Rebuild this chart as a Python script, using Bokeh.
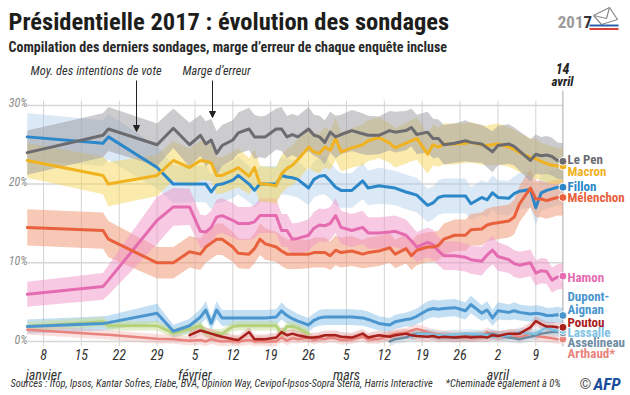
import pandas as pd
from bokeh.plotting import figure
from bokeh.models import ColumnDataSource, Label, Arrow, NormalHead
from bokeh.core.properties import value
from bokeh.embed import file_html
from bokeh.resources import INLINE

# ---------------- data ----------------
DATES = ["2017-01-05", "2017-01-19", "2017-01-20", "2017-01-29", "2017-02-01",
         "2017-02-04", "2017-02-06", "2017-02-07", "2017-02-08", "2017-02-09",
         "2017-02-10", "2017-02-12", "2017-02-13", "2017-02-15", "2017-02-16",
         "2017-02-17", "2017-02-18", "2017-02-20", "2017-02-21", "2017-02-22",
         "2017-02-23", "2017-02-24", "2017-02-26", "2017-02-27", "2017-02-28",
         "2017-03-01", "2017-03-02", "2017-03-03", "2017-03-04", "2017-03-06",
         "2017-03-08", "2017-03-09", "2017-03-11", "2017-03-13", "2017-03-14",
         "2017-03-16", "2017-03-17", "2017-03-18", "2017-03-20", "2017-03-21",
         "2017-03-22", "2017-03-23", "2017-03-25", "2017-03-27", "2017-03-28",
         "2017-03-30", "2017-03-31", "2017-04-01", "2017-04-02", "2017-04-04",
         "2017-04-05", "2017-04-06", "2017-04-08", "2017-04-09", "2017-04-10",
         "2017-04-11", "2017-04-12", "2017-04-13", "2017-04-14"]

LE_PEN = [24.0, 26.2, 27.0, 25.0, 27.1, 25.0, 26.2, 25.1, 25.6, 23.9,
          24.9, 25.6, 26.5, 27.0, 26.0, 26.0, 26.0, 27.0, 27.0, 26.0,
          26.3, 26.0, 27.0, 26.2, 26.0, 25.3, 26.6, 26.0, 26.3, 26.8,
          26.4, 26.2, 26.2, 26.8, 26.6, 26.8, 27.2, 26.3, 26.6, 25.8,
          25.8, 25.0, 25.2, 25.5, 25.3, 25.1, 24.6, 24.1, 24.9, 25.1,
          24.8, 24.2, 23.0, 23.8, 23.6, 23.7, 23.5, 23.0, 22.9]
MACRON = [23.0, 21.1, 20.0, 21.1, 23.0, 22.1, 23.0, 22.9, 22.7, 21.1,
          21.1, 21.7, 22.1, 21.0, 22.1, 20.0, 20.0, 19.8, 21.3, 22.0,
          22.4, 23.1, 24.7, 24.1, 23.9, 24.7, 24.3, 25.8, 24.1, 24.6,
          25.0, 25.5, 25.9, 25.2, 24.6, 25.2, 25.5, 25.8, 23.8, 25.0,
          24.7, 25.1, 25.1, 25.2, 25.3, 25.0, 24.9, 25.0, 25.1, 24.7,
          24.4, 24.0, 23.4, 23.2, 22.9, 22.6, 22.4, 22.3, 22.3]
FILLON = [26.0, 25.2, 26.0, 22.1, 20.0, 20.0, 20.0, 20.0, 19.0, 19.9,
          20.0, 20.5, 21.1, 20.0, 19.2, 20.0, 20.0, 20.0, 21.1, 20.9,
          20.8, 20.6, 19.5, 20.6, 21.0, 21.1, 20.4, 19.6, 19.2, 19.2,
          20.4, 19.5, 19.8, 19.6, 19.5, 19.0, 18.8, 18.6, 17.3, 17.6,
          18.3, 18.5, 18.5, 18.5, 17.5, 18.3, 18.0, 18.9, 18.3, 18.2,
          18.8, 19.1, 19.3, 17.0, 18.9, 19.2, 19.4, 19.6, 19.6]
MELENCHON = [14.5, 14.1, 13.0, 10.0, 10.0, 11.4, 11.1, 12.0, 12.5, 13.0,
             13.0, 12.0, 11.2, 11.1, 11.8, 13.0, 12.4, 12.0, 11.5, 11.1,
             11.1, 11.1, 11.1, 11.3, 11.3, 11.3, 10.9, 11.6, 11.3, 11.5,
             11.1, 11.3, 11.5, 11.9, 11.1, 11.8, 10.9, 11.6, 12.0, 12.0,
             12.2, 13.0, 13.5, 13.5, 14.2, 14.3, 14.8, 15.0, 15.1, 15.3,
             15.8, 17.5, 19.5, 18.1, 18.1, 17.9, 18.1, 18.3, 18.3]
HAMON = [6.0, 7.0, 7.8, 15.4, 17.1, 17.1, 14.0, 13.9, 14.5, 15.8,
         16.0, 15.4, 15.0, 15.0, 15.2, 16.0, 16.0, 16.0, 14.1, 14.1,
         13.0, 13.1, 13.5, 14.4, 14.8, 14.7, 15.0, 16.0, 14.5, 14.1,
         14.5, 13.8, 13.8, 13.9, 14.0, 13.5, 12.8, 12.0, 12.6, 12.3,
         11.5, 10.9, 10.9, 10.7, 10.4, 10.2, 11.0, 11.6, 10.8, 10.4,
         9.9, 9.7, 10.0, 8.7, 9.0, 8.9, 7.8, 8.2, 8.3]
DUPONT_AIGNAN = [1.9, 2.3, 2.4, 3.6, 1.3, 2.0, 3.1, 4.0, 2.3, 4.0,
                 3.0, 3.0, 3.0, 3.0, 3.0, 3.0, 3.0, 3.1, 3.9, 3.3,
                 2.9, 2.6, 2.1, 2.7, 3.0, 3.1, 3.1, 3.1, 3.1, 3.1,
                 3.0, 2.8, 2.3, 2.1, 2.5, 2.8, 2.9, 3.2, 4.0, 4.2,
                 4.1, 4.2, 4.3, 3.9, 4.7, 3.6, 4.0, 3.0, 3.9, 3.7,
                 3.9, 3.7, 3.5, 3.6, 3.5, 3.3, 3.3, 3.4, 3.3]
JADOT = [1.9, 2.5, 2.0, 2.0, 1.05, 1.6, 2.0, 1.1, 1.0, 1.0,
         1.0, 1.9, 2.0, 2.0, 2.0, 2.0, 2.0, 2.0, 1.0, 1.9,
         1.9, 1.7, 1.0, None, None, None, None, None, None, None,
         None, None, None, None, None, None, None, None, None, None,
         None, None, None, None, None, None, None, None, None, None,
         None, None, None, None, None, None, None, None, None]
POUTOU = [None, None, None, None, None, 0.8, 1.4, 1.2, 1.0, 0.8,
          0.6, 0.3, 0.2, 1.2, 0.3, 0.3, 0.3, 0.5, 1.2, 0.8,
          1.0, 0.8, 0.5, 0.5, 0.6, 0.8, 0.8, 0.8, 0.6, 0.5,
          1.0, 0.5, 0.8, 0.6, 0.8, 1.0, 0.8, 0.7, 0.6, 0.7,
          0.5, 0.6, 0.5, 0.6, 0.5, 0.6, 0.5, 0.8, 0.7, 1.0,
          1.0, 1.0, 1.8, 2.6, 2.2, 1.9, 1.9, 1.8, 1.8]
LASSALLE = [None, None, None, None, None, None, None, None, None, None,
            None, None, None, None, None, None, None, None, None, None,
            None, None, None, None, None, None, None, None, None, None,
            None, None, None, None, None, None, 0.6, 0.9, 1.0, 0.9,
            0.8, 0.8, 0.9, 1.0, 1.0, 0.9, 0.8, 0.6, 0.7, 0.8,
            1.0, 1.2, 1.0, 1.0, 1.4, 1.8, 1.5, 1.4, 1.4]
ASSELINEAU = [None, None, None, None, None, None, None, None, None, None,
              None, None, None, None, None, None, None, None, None, None,
              None, None, None, None, None, None, None, None, None, None,
              None, None, None, 0.0, 0.3, 0.5, 0.8, 1.0, 1.0, 0.8,
              0.7, 0.6, 0.5, 0.6, 0.6, 0.8, 0.9, 1.0, 0.8, 0.5,
              0.4, 0.3, 0.6, 0.8, 1.0, 1.1, 1.2, 1.2, 1.1]
ARTHAUD = [1.5, 0.9, 0.85, 0.35, 0.3, 0.1, 0.2, 0.0, 0.3, 0.1,
           0.0, 0.1, 0.0, 0.2, 0.0, 0.1, 0.0, 0.0, 0.5, 0.1,
           0.4, 0.3, 0.5, 0.2, 0.4, 0.3, 0.5, 0.4, 0.2, 0.3,
           0.6, 0.3, 0.3, 0.8, 1.0, 1.1, 1.4, 1.6, 1.2, 1.0,
           0.9, 0.8, 0.8, 0.7, 0.8, 0.7, 1.2, 0.8, 0.7, 0.8,
           0.8, 0.5, 1.0, 0.7, 0.6, 0.5, 0.4, 0.3, 0.3]

# margins of error (half width of the band, points)
LE_PEN_MOE = [2.8, 2.8, 2.8, 2.7, 2.5, 2.8, 2.6, 2.9, 2.7, 2.8,
              2.6, 2.5, 2.6, 2.7, 2.8, 2.6, 2.7, 2.6, 2.8, 2.7,
              2.6, 2.7, 2.8, 2.6, 2.7, 2.8, 2.6, 2.7, 2.5, 2.6,
              2.6, 2.5, 2.4, 2.5, 2.6, 2.5, 2.4, 2.5, 2.6, 2.5,
              2.4, 2.5, 2.5, 2.6, 2.5, 2.4, 2.5, 2.6, 2.5, 2.5,
              2.4, 2.5, 2.7, 2.5, 2.4, 2.4, 2.4, 2.3, 2.3]
MACRON_MOE = [2.2, 2.4, 2.8, 2.6, 2.5, 2.4, 2.5, 2.4, 2.3, 2.4,
              2.3, 2.4, 2.5, 2.3, 2.4, 2.3, 2.2, 2.3, 2.4, 2.5,
              2.5, 2.6, 2.6, 2.5, 2.5, 2.6, 2.5, 2.7, 2.5, 2.5,
              2.6, 2.6, 2.6, 2.5, 2.5, 2.6, 2.6, 2.7, 2.5, 2.6,
              2.5, 2.6, 2.6, 2.5, 2.6, 2.5, 2.5, 2.6, 2.6, 2.5,
              2.5, 2.5, 2.4, 2.5, 2.4, 2.4, 2.4, 2.3, 2.3]
FILLON_MOE = [3.0, 2.9, 2.9, 2.7, 2.4, 2.3, 2.3, 2.3, 2.2, 2.3,
              2.3, 2.3, 2.4, 2.3, 2.2, 2.3, 2.3, 2.3, 2.4, 2.3,
              2.3, 2.3, 2.2, 2.3, 2.4, 2.4, 2.3, 2.3, 2.2, 2.2,
              2.3, 2.2, 2.3, 2.2, 2.2, 2.2, 2.2, 2.2, 2.1, 2.1,
              2.2, 2.2, 2.2, 2.2, 2.1, 2.2, 2.2, 2.2, 2.2, 2.2,
              2.2, 2.3, 2.3, 2.2, 2.3, 2.3, 2.3, 2.3, 2.3]
MELENCHON_MOE = [2.3, 2.3, 2.3, 2.0, 2.0, 2.0, 2.0, 2.0, 2.0, 2.0,
                 2.0, 1.9, 1.9, 1.9, 1.9, 2.0, 2.0, 1.9, 1.9, 1.9,
                 1.9, 1.9, 1.8, 1.9, 1.9, 1.9, 1.8, 1.9, 1.9, 1.9,
                 1.8, 1.9, 1.9, 1.9, 1.8, 1.9, 1.8, 1.9, 1.9, 1.9,
                 1.9, 2.0, 2.0, 2.0, 2.0, 2.1, 2.1, 2.1, 2.1, 2.1,
                 2.2, 2.3, 2.4, 2.3, 2.3, 2.3, 2.3, 2.3, 2.3]
HAMON_MOE = [1.6, 1.7, 1.9, 3.0, 2.4, 2.3, 2.1, 2.1, 2.1, 2.2,
             2.2, 2.2, 2.1, 2.1, 2.1, 2.2, 2.2, 2.2, 2.1, 2.1,
             2.0, 2.0, 2.0, 2.1, 2.1, 2.1, 2.1, 2.2, 2.1, 2.1,
             2.1, 2.0, 2.0, 2.0, 2.0, 2.0, 1.9, 1.9, 1.9, 1.9,
             1.8, 1.8, 1.8, 1.8, 1.8, 1.8, 1.8, 1.8, 1.8, 1.7,
             1.7, 1.7, 1.7, 1.6, 1.6, 1.6, 1.6, 1.6, 1.6]
DUPONT_AIGNAN_MOE = [0.9, 0.9, 0.9, 1.2, 0.8, 0.9, 1.0, 1.1, 0.9, 1.1,
                     1.0, 1.0, 1.0, 1.0, 1.0, 1.0, 1.0, 1.0, 1.1, 1.0,
                     1.0, 0.9, 0.9, 0.9, 1.0, 1.0, 1.0, 1.0, 1.0, 1.0,
                     1.0, 1.0, 0.9, 0.9, 0.9, 0.9, 1.0, 1.0, 1.1, 1.1,
                     1.1, 1.1, 1.1, 1.1, 1.1, 1.0, 1.1, 1.0, 1.1, 1.0,
                     1.1, 1.0, 1.0, 1.0, 1.0, 1.0, 1.0, 1.0, 1.0]
SMALL_MOE = 0.6

Y_TICKS = [0, 10, 20, 30]
Y_TICK_LABELS = ["0%", "10%", "20%", "30%"]
X_TICK_DATES = ["2017-01-08", "2017-01-15", "2017-01-22", "2017-01-29", "2017-02-05",
                "2017-02-12", "2017-02-19", "2017-02-26", "2017-03-05", "2017-03-12",
                "2017-03-19", "2017-03-26", "2017-04-02", "2017-04-09"]
X_TICK_LABELS = ["8", "15", "22", "29", "5", "12", "19", "26", "5", "12", "19", "26", "2", "9"]
MONTH_DATES = ["2017-01-08", "2017-02-05", "2017-03-05", "2017-04-02"]
MONTH_LABELS = ["janvier", "février", "mars", "avril"]
LAST_DATE = "2017-04-14"

# ---------------- helpers ----------------
T0 = pd.Timestamp("2017-01-01")


def day(s):
    return (pd.Timestamp(s) - T0).days


X = [day(d) for d in DATES]


# layout helpers: reference-pixel -> data coordinates (positions of texts only)
def dx(px):
    return 7 + (px - 43) / 5.41


def py(px):
    return (341 - px) / 7.87


FONT = "Roboto Condensed"

p = figure(width=630, height=395, x_range=(dx(0), dx(630)), y_range=(py(395), py(0)),
           output_backend="svg", toolbar_location=None, title=None,
           x_axis_location=None, y_axis_location=None, min_border=0,
           outline_line_color=None, background_fill_color="white",
           border_fill_color="white")
p.grid.visible = False

# grid lines
xt = [day(d) for d in X_TICK_DATES]
p.segment(x0=xt, x1=xt, y0=[-0.6] * len(xt), y1=[30.6] * len(xt),
          line_color="#d3d3d3", line_width=1)
p.segment(x0=[X[0]] * len(Y_TICKS), x1=[day(LAST_DATE)] * len(Y_TICKS),
          y0=Y_TICKS, y1=Y_TICKS, line_color="#d6d6d6", line_width=1.5)
p.segment(x0=[day(LAST_DATE)], x1=[day(LAST_DATE)], y0=[-0.6], y1=[py(90)],
          line_color="#aaaaaa", line_width=1)

# series definitions: name, values, moe, line colour, band colour, band alpha, label, label y (px), width
SERIES = [
    ("Fillon", FILLON, FILLON_MOE, "#2b87c8", "#a9c8e8", 0.42, "Fillon", 186, 3),
    ("Mélenchon", MELENCHON, MELENCHON_MOE, "#e8603c", "#f09a7a", 0.55, "Mélenchon", 197, 3),
    ("Hamon", HAMON, HAMON_MOE, "#e56bb0", "#f093c8", 0.5, "Hamon", 277, 3),
    ("Dupont-Aignan", DUPONT_AIGNAN, DUPONT_AIGNAN_MOE, "#4b96cf", "#6aaee0", 0.4,
     "Dupont-\nAignan", 302.5, 3),
    ("Jadot", JADOT, None, "#b5d17a", "#c8dd95", 0.5, None, None, 3),
    ("Arthaud", ARTHAUD, None, "#e8847d", "#f0a8a4", 0.35, "Arthaud*", 353, 2.5),
    ("Asselineau", ASSELINEAU, None, "#6d8ca3", "#a9bccb", 0.35, "Asselineau", 342, 2.5),
    ("Lassalle", LASSALLE, None, "#7ec3e3", "#a6d6ee", 0.35, "Lassalle", 332, 2.5),
    ("Poutou", POUTOU, None, "#a8201c", "#d07070", 0.3, "Poutou", 322, 2.5),
    ("Macron", MACRON, MACRON_MOE, "#f0b21f", "#f5d55a", 0.5, "Macron", 171, 3),
    ("Le Pen", LE_PEN, LE_PEN_MOE, "#6b6b70", "#9a99a0", 0.5, "Le Pen", 159, 3),
]

sources = {}
for name, vals, moe, lc, bc, ba, lab, ly, lw in SERIES:
    xs, ys, lo, hi = [], [], [], []
    for i, v in enumerate(vals):
        if v is None:
            continue
        m = moe[i] if moe is not None else SMALL_MOE
        xs.append(X[i])
        ys.append(v)
        lo.append(v - m)
        hi.append(v + m)
    src = ColumnDataSource(dict(x=xs, y=ys, lo=lo, hi=hi))
    sources[name] = src
    p.varea(x="x", y1="lo", y2="hi", source=src, fill_color=bc, fill_alpha=ba)

LINE_ORDER = ["Jadot", "Arthaud", "Asselineau", "Lassalle", "Poutou", "Dupont-Aignan",
              "Hamon", "Fillon", "Mélenchon", "Macron", "Le Pen"]
info = {s[0]: s for s in SERIES}
for name in LINE_ORDER:
    _, vals, moe, lc, bc, ba, lab, ly, lw = info[name]
    p.line(x="x", y="y", source=sources[name], line_color=lc, line_width=lw,
           line_join="round", line_cap="round")

# end dots + labels
for name in ["Arthaud", "Asselineau", "Lassalle", "Poutou", "Dupont-Aignan", "Hamon",
             "Mélenchon", "Fillon", "Macron", "Le Pen"]:
    _, vals, moe, lc, bc, ba, lab, ly, lw = info[name]
    src = sources[name]
    p.scatter(x=[src.data["x"][-1]], y=[src.data["y"][-1]], size=8, fill_color=lc,
              line_color="white", line_width=1)
    p.text(x=[dx(567)], y=[py(ly)], text=[lab], text_color=lc,
           text_font=value(FONT), text_font_size="13px", text_font_style="bold",
           text_baseline="middle", text_align="left", text_line_height=0.85)

# axis-like tick labels
p.text(x=[dx(27)] * len(Y_TICKS), y=Y_TICKS, text=Y_TICK_LABELS, text_color="#8a8a8a",
       text_font=value(FONT), text_font_size="12px", text_font_style="italic",
       text_baseline="middle", text_align="right", y_offset=-2)
p.text(x=xt, y=[py(354)] * len(xt), text=X_TICK_LABELS, text_color="#333333",
       text_font=value(FONT), text_font_size="14px", text_font_style="italic",
       text_baseline="middle", text_align="center")
mt = [day(d) for d in MONTH_DATES]
p.text(x=mt, y=[py(374)] * len(mt), text=MONTH_LABELS, text_color="#333333",
       text_font=value(FONT), text_font_size="14px", text_font_style="italic",
       text_baseline="middle", text_align="center")


# annotations
def lab(text, x, y, size, style="normal", color="#222222", align="left", baseline="middle"):
    p.add_layout(Label(x=x, y=y, text=text, text_font=FONT, text_font_size=size,
                       text_font_style=style, text_color=color, text_align=align,
                       text_baseline=baseline))


lab("Présidentielle 2017 : évolution des sondages", dx(8), py(21), "24.5px", "bold", "#1d1d1b")
lab("Compilation des derniers sondages, marge d’erreur de chaque enquête incluse",
    dx(8), py(46), "14px", "bold", "#2a2a2a")
lab("Moy. des intentions de vote", dx(30), py(70), "12.5px", "italic", "#333333")
lab("Marge d’erreur", dx(182), py(70), "12.3px", "italic", "#333333")
lab("14", dx(562), py(68), "14px", "bold italic", "#222222", "center")
lab("avril", dx(562), py(81), "13px", "bold italic", "#222222", "center")
lab("Sources : Ifop, Ipsos, Kantar Sofres, Elabe, BVA, Opinion Way, Cevipof-Ipsos-Sopra Steria, Harris Interactive",
    dx(10), py(383), "10.4px", "italic", "#333333")
lab("*Cheminade également à 0%", dx(445), py(383), "10.5px", "italic", "#333333")
lab("©", dx(579), py(383), "15px", "normal", "#555555")
lab("AFP", dx(593), py(383), "17px", "bold italic", "#1b4f9c")
lab("201", dx(583), py(21), "17px", "bold", "#9a9a9a", "right")
lab("7", dx(583), py(21), "17px", "bold", "#333333", "left")

# small ballot-envelope pictogram of the logo
p.line(x=[dx(593), dx(609), dx(617), dx(601), dx(593)],
       y=[py(15), py(7), py(19), py(24), py(15)], line_color="#8a8a8a", line_width=1.2)
p.line(x=[dx(593), dx(606), dx(609)], y=[py(15), py(18), py(7)],
       line_color="#8a8a8a", line_width=1.2)
p.segment(x0=[dx(589)], x1=[dx(618)], y0=[py(25)], y1=[py(25)], line_color="#2f62a8", line_width=2)
p.segment(x0=[dx(589)], x1=[dx(618)], y0=[py(28.5)], y1=[py(28.5)], line_color="#d8403a", line_width=2)

p.add_layout(Arrow(end=NormalHead(size=6, fill_color="#222222", line_color="#222222"),
                   x_start=dx(136), y_start=py(80), x_end=dx(136), y_end=py(131),
                   line_color="#222222", line_width=1))
p.add_layout(Arrow(end=NormalHead(size=6, fill_color="#222222", line_color="#222222"),
                   x_start=dx(212), y_start=py(80), x_end=dx(212), y_end=py(117),
                   line_color="#222222", line_width=1))

open("out.html", "w").write(file_html(p, INLINE))
